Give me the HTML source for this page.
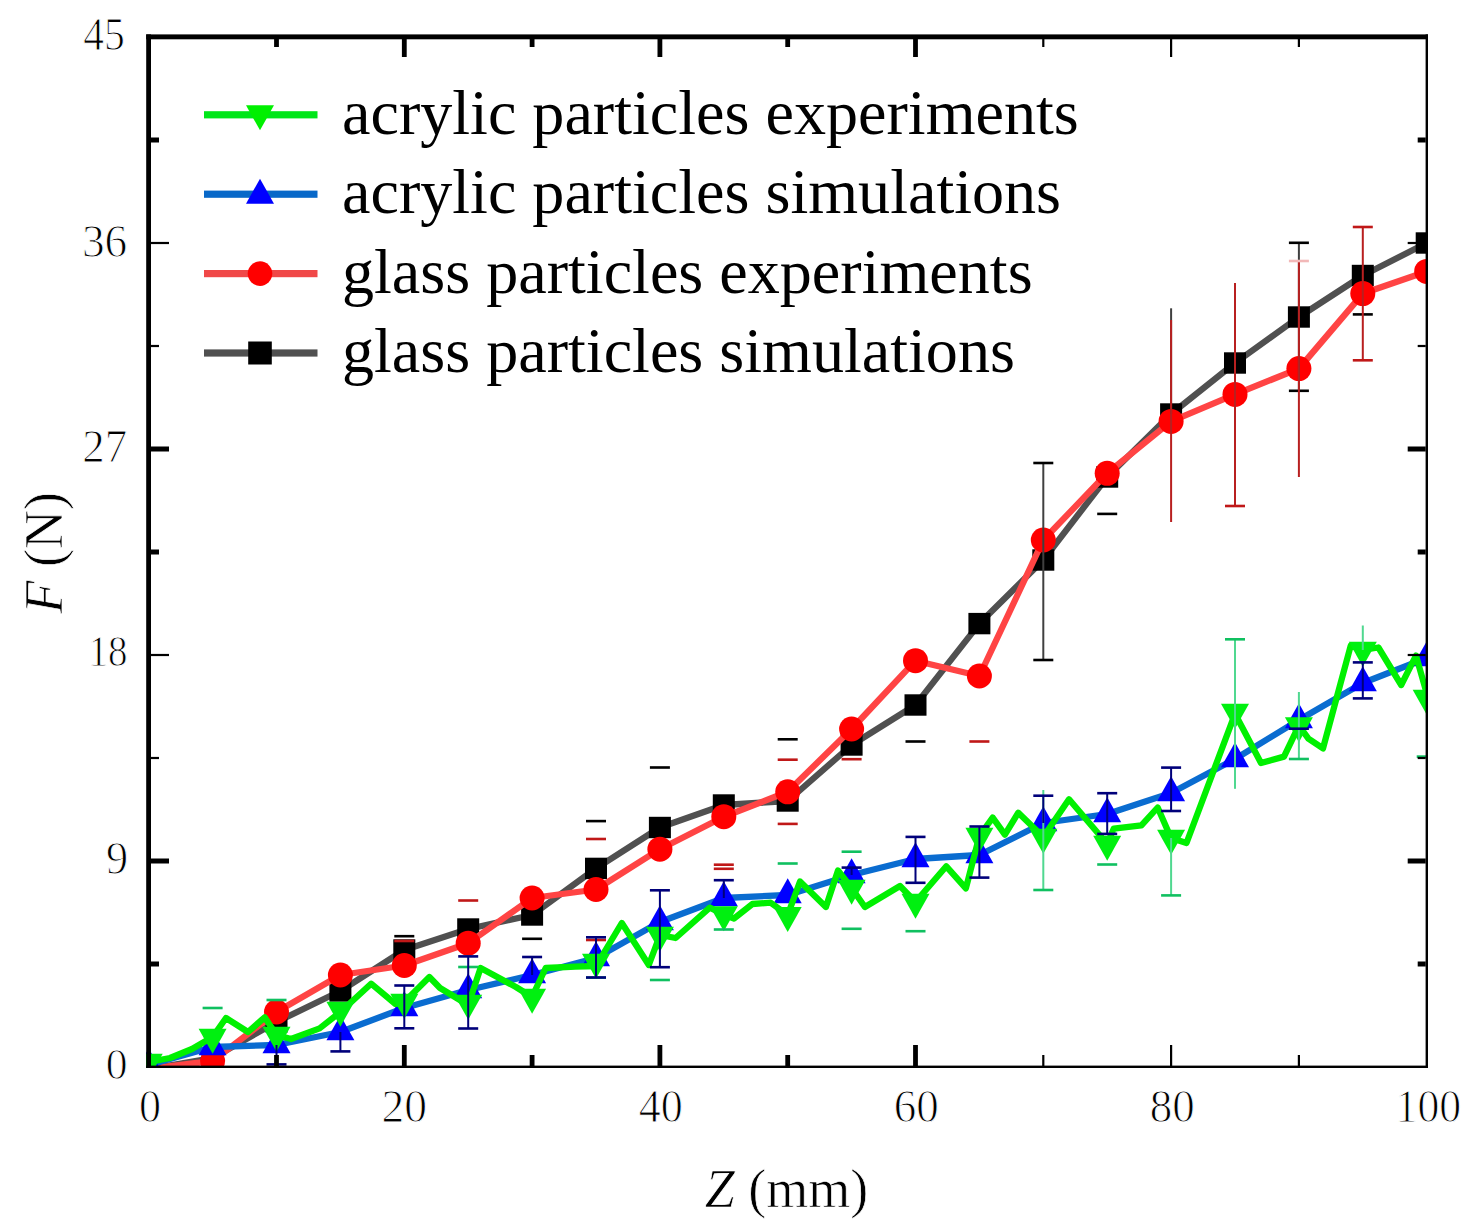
<!DOCTYPE html>
<html><head><meta charset="utf-8"><style>
html,body{margin:0;padding:0;background:#fff;width:1476px;height:1228px;overflow:hidden}
svg{display:block}
text{paint-order:normal;font-family:"Liberation Serif",serif;fill:#000}
.tk{font-size:46px;stroke:#fff;stroke-width:1px}
.ax{font-size:54px;stroke:#fff;stroke-width:0.7px}
.lg{font-size:64.1px}
</style></head><body>
<svg width="1476" height="1228" viewBox="0 0 1476 1228">
<rect width="1476" height="1228" fill="#fff"/>
<defs><clipPath id="pc"><rect x="146" y="34" width="1282" height="1034"/></clipPath></defs><g clip-path="url(#pc)"><polyline points="148.7,1069.0 212.6,1058.0 276.5,1022.0 340.4,991.0 404.3,950.0 468.2,929.0 532.1,915.0 596.0,868.4 659.9,827.5 723.8,805.0 787.7,801.0 851.6,745.0 915.5,705.0 979.4,623.6 1043.3,560.0 1107.2,477.0 1171.1,414.0 1235.0,363.0 1298.9,317.0 1362.8,275.5 1426.7,243.0" fill="none" stroke="#505050" stroke-width="6.3" stroke-linejoin="round" stroke-linecap="round"/><rect x="137.7" y="1058.3" width="22" height="21.4" fill="#000"/><rect x="201.6" y="1047.3" width="22" height="21.4" fill="#000"/><rect x="265.5" y="1011.3" width="22" height="21.4" fill="#000"/><rect x="329.4" y="980.3" width="22" height="21.4" fill="#000"/><rect x="393.3" y="939.3" width="22" height="21.4" fill="#000"/><rect x="457.2" y="918.3" width="22" height="21.4" fill="#000"/><rect x="521.1" y="904.3" width="22" height="21.4" fill="#000"/><rect x="585.0" y="857.7" width="22" height="21.4" fill="#000"/><rect x="648.9" y="816.8" width="22" height="21.4" fill="#000"/><rect x="712.8" y="794.3" width="22" height="21.4" fill="#000"/><rect x="776.7" y="790.3" width="22" height="21.4" fill="#000"/><rect x="840.6" y="734.3" width="22" height="21.4" fill="#000"/><rect x="904.5" y="694.3" width="22" height="21.4" fill="#000"/><rect x="968.4" y="612.9" width="22" height="21.4" fill="#000"/><rect x="1032.3" y="549.3" width="22" height="21.4" fill="#000"/><rect x="1096.2" y="466.3" width="22" height="21.4" fill="#000"/><rect x="1160.1" y="403.3" width="22" height="21.4" fill="#000"/><rect x="1224.0" y="352.3" width="22" height="21.4" fill="#000"/><rect x="1287.9" y="306.3" width="22" height="21.4" fill="#000"/><rect x="1351.8" y="264.8" width="22" height="21.4" fill="#000"/><rect x="1415.7" y="232.3" width="22" height="21.4" fill="#000"/><polyline points="148.7,1069.0 212.6,1061.0 276.5,1012.0 340.4,975.0 404.3,965.5 468.2,943.2 532.1,898.0 596.0,889.5 659.9,849.2 723.8,816.7 787.7,791.8 851.6,729.0 915.5,660.7 979.4,676.0 1043.3,540.0 1107.2,473.3 1171.1,421.4 1235.0,394.4 1298.9,368.6 1362.8,293.6 1426.7,271.4" fill="none" stroke="#FF4444" stroke-width="6.3" stroke-linejoin="round" stroke-linecap="round"/><circle cx="148.7" cy="1069.0" r="12.5" fill="#FF0000"/><circle cx="212.6" cy="1061.0" r="12.5" fill="#FF0000"/><circle cx="276.5" cy="1012.0" r="12.5" fill="#FF0000"/><circle cx="340.4" cy="975.0" r="12.5" fill="#FF0000"/><circle cx="404.3" cy="965.5" r="12.5" fill="#FF0000"/><circle cx="468.2" cy="943.2" r="12.5" fill="#FF0000"/><circle cx="532.1" cy="898.0" r="12.5" fill="#FF0000"/><circle cx="596.0" cy="889.5" r="12.5" fill="#FF0000"/><circle cx="659.9" cy="849.2" r="12.5" fill="#FF0000"/><circle cx="723.8" cy="816.7" r="12.5" fill="#FF0000"/><circle cx="787.7" cy="791.8" r="12.5" fill="#FF0000"/><circle cx="851.6" cy="729.0" r="12.5" fill="#FF0000"/><circle cx="915.5" cy="660.7" r="12.5" fill="#FF0000"/><circle cx="979.4" cy="676.0" r="12.5" fill="#FF0000"/><circle cx="1043.3" cy="540.0" r="12.5" fill="#FF0000"/><circle cx="1107.2" cy="473.3" r="12.5" fill="#FF0000"/><circle cx="1171.1" cy="421.4" r="12.5" fill="#FF0000"/><circle cx="1235.0" cy="394.4" r="12.5" fill="#FF0000"/><circle cx="1298.9" cy="368.6" r="12.5" fill="#FF0000"/><circle cx="1362.8" cy="293.6" r="12.5" fill="#FF0000"/><circle cx="1426.7" cy="271.4" r="12.5" fill="#FF0000"/><polyline points="148.7,1065.0 212.6,1047.0 276.5,1045.0 340.4,1032.0 404.3,1008.0 468.2,990.0 532.1,975.0 596.0,958.0 659.9,922.0 723.8,898.0 787.7,895.0 851.6,875.0 915.5,859.0 979.4,855.0 1043.3,823.0 1107.2,814.0 1171.1,793.0 1235.0,759.0 1298.9,720.0 1362.8,683.0 1426.7,658.0" fill="none" stroke="#0A6CD0" stroke-width="6.3" stroke-linejoin="round" stroke-linecap="round"/><path d="M134.7,1073.3L162.7,1073.3L148.7,1048.3Z" fill="#0000FF"/><path d="M198.6,1055.3L226.6,1055.3L212.6,1030.3Z" fill="#0000FF"/><path d="M262.5,1053.3L290.5,1053.3L276.5,1028.3Z" fill="#0000FF"/><path d="M326.4,1040.3L354.4,1040.3L340.4,1015.3Z" fill="#0000FF"/><path d="M390.3,1016.3L418.3,1016.3L404.3,991.3Z" fill="#0000FF"/><path d="M454.2,998.3L482.2,998.3L468.2,973.3Z" fill="#0000FF"/><path d="M518.1,983.3L546.1,983.3L532.1,958.3Z" fill="#0000FF"/><path d="M582.0,966.3L610.0,966.3L596.0,941.3Z" fill="#0000FF"/><path d="M645.9,930.3L673.9,930.3L659.9,905.3Z" fill="#0000FF"/><path d="M709.8,906.3L737.8,906.3L723.8,881.3Z" fill="#0000FF"/><path d="M773.7,903.3L801.7,903.3L787.7,878.3Z" fill="#0000FF"/><path d="M837.6,883.3L865.6,883.3L851.6,858.3Z" fill="#0000FF"/><path d="M901.5,867.3L929.5,867.3L915.5,842.3Z" fill="#0000FF"/><path d="M965.4,863.3L993.4,863.3L979.4,838.3Z" fill="#0000FF"/><path d="M1029.3,831.3L1057.3,831.3L1043.3,806.3Z" fill="#0000FF"/><path d="M1093.2,822.3L1121.2,822.3L1107.2,797.3Z" fill="#0000FF"/><path d="M1157.1,801.3L1185.1,801.3L1171.1,776.3Z" fill="#0000FF"/><path d="M1221.0,767.3L1249.0,767.3L1235.0,742.3Z" fill="#0000FF"/><path d="M1284.9,728.3L1312.9,728.3L1298.9,703.3Z" fill="#0000FF"/><path d="M1348.8,691.3L1376.8,691.3L1362.8,666.3Z" fill="#0000FF"/><path d="M1412.7,666.3L1440.7,666.3L1426.7,641.3Z" fill="#0000FF"/><polyline points="148.7,1062.0 170.0,1058.0 192.0,1049.0 212.6,1037.0 226.0,1018.0 248.0,1032.0 264.7,1017.3 276.5,1035.0 291.0,1039.0 319.6,1028.4 340.4,1012.0 371.1,983.7 395.5,1004.0 404.3,1002.0 429.4,977.0 440.0,988.0 468.2,1005.0 480.6,968.0 515.9,987.0 532.0,997.0 545.7,968.0 575.5,966.7 596.0,966.0 621.8,923.0 648.8,965.0 660.0,935.0 675.6,938.0 709.8,907.6 723.8,914.5 734.0,918.5 752.4,904.0 770.7,902.7 787.7,915.0 800.0,881.5 825.9,907.0 838.0,870.5 851.6,888.0 864.9,907.0 900.0,886.0 915.5,902.0 946.3,866.3 965.9,888.3 979.4,836.0 992.7,817.6 1004.9,834.6 1018.3,812.7 1043.3,837.0 1069.0,799.3 1107.2,844.0 1113.7,828.7 1141.4,825.4 1157.7,807.5 1171.0,838.0 1186.5,843.0 1235.0,713.8 1261.0,763.0 1284.0,756.6 1298.9,725.6 1308.4,738.7 1323.0,748.4 1350.7,645.8 1362.8,650.0 1378.4,647.5 1401.2,685.0 1416.0,655.6 1430.0,705.0" fill="none" stroke="#00F000" stroke-width="6.3" stroke-linejoin="round" stroke-linecap="round"/><path d="M134.7,1053.7L162.7,1053.7L148.7,1078.7Z" fill="#00F010"/><path d="M198.6,1028.7L226.6,1028.7L212.6,1053.7Z" fill="#00F010"/><path d="M262.5,1026.7L290.5,1026.7L276.5,1051.7Z" fill="#00F010"/><path d="M326.4,1001.7L354.4,1001.7L340.4,1026.7Z" fill="#00F010"/><path d="M390.3,993.7L418.3,993.7L404.3,1018.7Z" fill="#00F010"/><path d="M454.2,994.7L482.2,994.7L468.2,1019.7Z" fill="#00F010"/><path d="M518.1,988.7L546.1,988.7L532.1,1013.7Z" fill="#00F010"/><path d="M582.0,953.7L610.0,953.7L596.0,978.7Z" fill="#00F010"/><path d="M645.9,926.7L673.9,926.7L659.9,951.7Z" fill="#00F010"/><path d="M709.8,906.2L737.8,906.2L723.8,931.2Z" fill="#00F010"/><path d="M773.7,906.9L801.7,906.9L787.7,931.9Z" fill="#00F010"/><path d="M837.6,879.7L865.6,879.7L851.6,904.7Z" fill="#00F010"/><path d="M901.5,893.7L929.5,893.7L915.5,918.7Z" fill="#00F010"/><path d="M965.4,827.7L993.4,827.7L979.4,852.7Z" fill="#00F010"/><path d="M1029.3,828.7L1057.3,828.7L1043.3,853.7Z" fill="#00F010"/><path d="M1093.2,835.7L1121.2,835.7L1107.2,860.7Z" fill="#00F010"/><path d="M1157.1,829.7L1185.1,829.7L1171.1,854.7Z" fill="#00F010"/><path d="M1221.0,703.7L1249.0,703.7L1235.0,728.7Z" fill="#00F010"/><path d="M1284.9,717.3L1312.9,717.3L1298.9,742.3Z" fill="#00F010"/><path d="M1348.8,641.7L1376.8,641.7L1362.8,666.7Z" fill="#00F010"/><path d="M1412.7,689.7L1440.7,689.7L1426.7,714.7Z" fill="#00F010"/><rect x="394.3" y="934.9" width="20" height="2.6" fill="#000"/><rect x="522.1" y="937.5" width="20" height="2.6" fill="#000"/><rect x="586.0" y="819.8" width="20" height="2.6" fill="#000"/><rect x="649.9" y="766.2" width="20" height="2.6" fill="#000"/><rect x="777.7" y="738.0" width="20" height="2.6" fill="#000"/><rect x="905.5" y="740.2" width="20" height="2.6" fill="#000"/><rect x="1042.3" y="463.0" width="2.0" height="197.0" fill="#404040"/><rect x="1033.3" y="461.7" width="20" height="2.6" fill="#000"/><rect x="1033.3" y="658.7" width="20" height="2.6" fill="#000"/><rect x="1097.2" y="512.6" width="20" height="2.6" fill="#000"/><rect x="1170.1" y="308.3" width="2.0" height="105.7" fill="#404040"/><rect x="1297.9" y="242.8" width="2.0" height="148.0" fill="#404040"/><rect x="1288.9" y="241.5" width="20" height="2.6" fill="#000"/><rect x="1288.9" y="389.5" width="20" height="2.6" fill="#000"/><rect x="1352.8" y="313.1" width="20" height="2.6" fill="#000"/><rect x="394.3" y="939.7" width="20" height="2.6" fill="#C01818"/><rect x="458.2" y="899.2" width="20" height="2.6" fill="#C01818"/><rect x="586.0" y="837.7" width="20" height="2.6" fill="#C01818"/><rect x="586.0" y="938.7" width="20" height="2.6" fill="#C01818"/><rect x="713.8" y="863.4" width="20" height="2.6" fill="#C01818"/><rect x="713.8" y="867.5" width="20" height="2.6" fill="#C01818"/><rect x="777.7" y="758.4" width="20" height="2.6" fill="#C01818"/><rect x="777.7" y="822.6" width="20" height="2.6" fill="#C01818"/><rect x="841.6" y="757.9" width="20" height="2.6" fill="#C01818"/><rect x="969.4" y="740.2" width="20" height="2.6" fill="#C01818"/><rect x="1170.1" y="320.0" width="2.0" height="202.0" fill="#B82020"/><rect x="1234.0" y="283.0" width="2.0" height="223.0" fill="#B82020"/><rect x="1225.0" y="504.7" width="20" height="2.6" fill="#C01818"/><rect x="1297.9" y="261.0" width="2.0" height="216.0" fill="#B82020"/><rect x="1361.8" y="227.0" width="2.0" height="133.3" fill="#B82020"/><rect x="1352.8" y="225.7" width="20" height="2.6" fill="#C01818"/><rect x="1352.8" y="359.0" width="20" height="2.6" fill="#C01818"/><rect x="202.6" y="1006.7" width="20" height="2.6" fill="#10C060"/><rect x="266.5" y="998.7" width="20" height="2.6" fill="#10C060"/><rect x="458.2" y="965.7" width="20" height="2.6" fill="#10C060"/><rect x="586.0" y="976.3" width="20" height="2.6" fill="#10C060"/><rect x="649.9" y="978.7" width="20" height="2.6" fill="#10C060"/><rect x="713.8" y="928.2" width="20" height="2.6" fill="#10C060"/><rect x="777.7" y="862.2" width="20" height="2.6" fill="#10C060"/><rect x="841.6" y="850.4" width="20" height="2.6" fill="#10C060"/><rect x="841.6" y="927.5" width="20" height="2.6" fill="#10C060"/><rect x="905.5" y="929.9" width="20" height="2.6" fill="#10C060"/><rect x="1042.3" y="790.0" width="2.0" height="100.0" fill="#50D890"/><rect x="1033.3" y="888.7" width="20" height="2.6" fill="#10C060"/><rect x="1097.2" y="863.2" width="20" height="2.6" fill="#10C060"/><rect x="1170.1" y="838.0" width="2.0" height="57.4" fill="#50D890"/><rect x="1161.1" y="894.1" width="20" height="2.6" fill="#10C060"/><rect x="1234.0" y="639.3" width="2.0" height="149.5" fill="#50D890"/><rect x="1225.0" y="638.0" width="20" height="2.6" fill="#10C060"/><rect x="1297.9" y="692.0" width="2.0" height="67.0" fill="#50D890"/><rect x="1288.9" y="757.7" width="20" height="2.6" fill="#10C060"/><rect x="1361.8" y="625.5" width="2.0" height="24.5" fill="#50D890"/><rect x="1416.7" y="755.3" width="20" height="2.6" fill="#10C060"/><rect x="275.5" y="1045.0" width="2.0" height="19.4" fill="#00007A"/><rect x="266.5" y="1063.1" width="20" height="2.6" fill="#00007A"/><rect x="339.4" y="1032.0" width="2.0" height="19.4" fill="#00007A"/><rect x="330.4" y="1050.1" width="20" height="2.6" fill="#00007A"/><rect x="403.3" y="985.5" width="2.0" height="42.8" fill="#00007A"/><rect x="394.3" y="984.2" width="20" height="2.6" fill="#00007A"/><rect x="394.3" y="1027.0" width="20" height="2.6" fill="#00007A"/><rect x="467.2" y="956.4" width="2.0" height="72.1" fill="#00007A"/><rect x="458.2" y="955.1" width="20" height="2.6" fill="#00007A"/><rect x="458.2" y="1027.2" width="20" height="2.6" fill="#00007A"/><rect x="531.1" y="957.0" width="2.0" height="18.0" fill="#00007A"/><rect x="522.1" y="955.7" width="20" height="2.6" fill="#00007A"/><rect x="595.0" y="937.3" width="2.0" height="40.2" fill="#00007A"/><rect x="586.0" y="936.0" width="20" height="2.6" fill="#00007A"/><rect x="586.0" y="976.2" width="20" height="2.6" fill="#00007A"/><rect x="658.9" y="890.3" width="2.0" height="76.9" fill="#00007A"/><rect x="649.9" y="889.0" width="20" height="2.6" fill="#00007A"/><rect x="649.9" y="965.9" width="20" height="2.6" fill="#00007A"/><rect x="722.8" y="880.2" width="2.0" height="17.8" fill="#00007A"/><rect x="713.8" y="878.9" width="20" height="2.6" fill="#00007A"/><rect x="850.6" y="867.6" width="2.0" height="7.4" fill="#00007A"/><rect x="841.6" y="866.3" width="20" height="2.6" fill="#00007A"/><rect x="914.5" y="836.9" width="2.0" height="45.9" fill="#00007A"/><rect x="905.5" y="835.6" width="20" height="2.6" fill="#00007A"/><rect x="905.5" y="881.5" width="20" height="2.6" fill="#00007A"/><rect x="978.4" y="826.5" width="2.0" height="51.1" fill="#00007A"/><rect x="969.4" y="825.2" width="20" height="2.6" fill="#00007A"/><rect x="969.4" y="876.3" width="20" height="2.6" fill="#00007A"/><rect x="1042.3" y="795.7" width="2.0" height="27.3" fill="#00007A"/><rect x="1033.3" y="794.4" width="20" height="2.6" fill="#00007A"/><rect x="1106.2" y="793.2" width="2.0" height="40.7" fill="#00007A"/><rect x="1097.2" y="791.9" width="20" height="2.6" fill="#00007A"/><rect x="1097.2" y="832.6" width="20" height="2.6" fill="#00007A"/><rect x="1170.1" y="767.6" width="2.0" height="43.4" fill="#00007A"/><rect x="1161.1" y="766.3" width="20" height="2.6" fill="#00007A"/><rect x="1161.1" y="809.7" width="20" height="2.6" fill="#00007A"/><rect x="1288.9" y="727.4" width="20" height="2.6" fill="#00007A"/><rect x="1361.8" y="662.4" width="2.0" height="36.0" fill="#00007A"/><rect x="1352.8" y="661.1" width="20" height="2.6" fill="#00007A"/><rect x="1352.8" y="697.1" width="20" height="2.6" fill="#00007A"/><rect x="1288.9" y="259.7" width="20" height="2.6" fill="#F2B8B8"/></g>
<rect x="146.2" y="34.4" width="4.8" height="1033.6" fill="#000"/><rect x="146.2" y="34.4" width="1281.8" height="4.9" fill="#000"/><rect x="1425.6" y="34.4" width="2.4" height="1033.6" fill="#000"/><rect x="146.2" y="1065.6" width="1281.8" height="2.4" fill="#000"/><rect x="274.1" y="1055.0" width="4.8" height="11" fill="#000"/><rect x="274.1" y="39" width="4.8" height="8" fill="#000"/><rect x="401.9" y="1045.0" width="4.8" height="21" fill="#000"/><rect x="401.9" y="39" width="4.8" height="18" fill="#000"/><rect x="529.7" y="1055.0" width="4.8" height="11" fill="#000"/><rect x="529.7" y="39" width="4.8" height="8" fill="#000"/><rect x="657.5" y="1045.0" width="4.8" height="21" fill="#000"/><rect x="657.5" y="39" width="4.8" height="18" fill="#000"/><rect x="785.3" y="1055.0" width="4.8" height="11" fill="#000"/><rect x="785.3" y="39" width="4.8" height="8" fill="#000"/><rect x="913.1" y="1045.0" width="4.8" height="21" fill="#000"/><rect x="913.1" y="39" width="4.8" height="18" fill="#000"/><rect x="1042.2" y="1055.0" width="2.2" height="11" fill="#000"/><rect x="1042.2" y="39" width="2.2" height="8" fill="#000"/><rect x="1170.0" y="1045.0" width="2.2" height="21" fill="#000"/><rect x="1170.0" y="39" width="2.2" height="18" fill="#000"/><rect x="1297.8" y="1055.0" width="2.2" height="11" fill="#000"/><rect x="1297.8" y="39" width="2.2" height="8" fill="#000"/><rect x="151" y="961.5" width="8" height="5.0" fill="#000"/><rect x="1417.7" y="961.5" width="8" height="5.0" fill="#000"/><rect x="151" y="858.5" width="18" height="5.0" fill="#000"/><rect x="1407.7" y="858.5" width="18" height="5.0" fill="#000"/><rect x="151" y="756.9" width="8" height="2.2" fill="#000"/><rect x="1417.7" y="756.9" width="8" height="2.2" fill="#000"/><rect x="151" y="653.9" width="18" height="2.2" fill="#000"/><rect x="1407.7" y="653.9" width="18" height="2.2" fill="#000"/><rect x="151" y="549.5" width="8" height="5.0" fill="#000"/><rect x="1417.7" y="549.5" width="8" height="5.0" fill="#000"/><rect x="151" y="446.5" width="18" height="5.0" fill="#000"/><rect x="1407.7" y="446.5" width="18" height="5.0" fill="#000"/><rect x="151" y="344.9" width="8" height="2.2" fill="#000"/><rect x="1417.7" y="344.9" width="8" height="2.2" fill="#000"/><rect x="151" y="241.9" width="18" height="2.2" fill="#000"/><rect x="1407.7" y="241.9" width="18" height="2.2" fill="#000"/><rect x="151" y="137.5" width="8" height="5.0" fill="#000"/><rect x="1417.7" y="137.5" width="8" height="5.0" fill="#000"/>
<text transform="translate(83.27,49.53) scale(0.9056,1.0219)" class="tk">45</text><text transform="translate(81.92,256.63) scale(0.9856,1.0126)" class="tk">36</text><text transform="translate(82.33,462.10) scale(0.9756,1.0311)" class="tk">27</text><text transform="translate(88.48,666.46) scale(0.8457,0.9501)" class="tk">18</text><text transform="translate(105.88,873.83) scale(0.9622,1.0223)" class="tk">9</text><text transform="translate(105.84,1078.67) scale(0.9485,0.9436)" class="tk">0</text><text transform="translate(138.92,1121.83) scale(0.9588,1.0209)" class="tk">0</text><text transform="translate(381.60,1121.93) scale(0.9899,1.0209)" class="tk">20</text><text transform="translate(638.72,1121.63) scale(0.9577,1.0113)" class="tk">40</text><text transform="translate(893.76,1121.93) scale(0.9793,1.0209)" class="tk">60</text><text transform="translate(1149.69,1121.93) scale(0.9787,1.0242)" class="tk">80</text><text transform="translate(1395.56,1121.54) scale(0.9493,0.9984)" class="tk">100</text><text x="786.5" y="1206.5" text-anchor="middle" class="ax"><tspan font-style="italic">Z</tspan> (mm)</text><text transform="translate(61.6,552.7) rotate(-90)" text-anchor="middle" class="ax"><tspan font-style="italic">F</tspan> (N)</text>
<rect x="204" y="111.2" width="113.5" height="7.2" fill="#00E619"/><path d="M246.0,105.3 L274.0,105.3 L260.0,130.3 Z" fill="#00F000"/><text x="342" y="133.7" class="lg">acrylic particles experiments</text><rect x="204" y="190.6" width="113.5" height="7.2" fill="#0868C8"/><path d="M246.0,203.7 L274.0,203.7 L260.0,178.7 Z" fill="#0000FF"/><text x="342" y="213.1" class="lg">acrylic particles simulations</text><rect x="204" y="270.0" width="113.5" height="7.2" fill="#F04848"/><circle cx="260.0" cy="273.6" r="12.3" fill="#FF0000"/><text x="342" y="292.5" class="lg">glass particles experiments</text><rect x="204" y="349.4" width="113.5" height="7.2" fill="#505050"/><rect x="248.2" y="341.5" width="23.6" height="23" fill="#000000"/><text x="342" y="371.9" class="lg">glass particles simulations</text>
</svg>
</body></html>
